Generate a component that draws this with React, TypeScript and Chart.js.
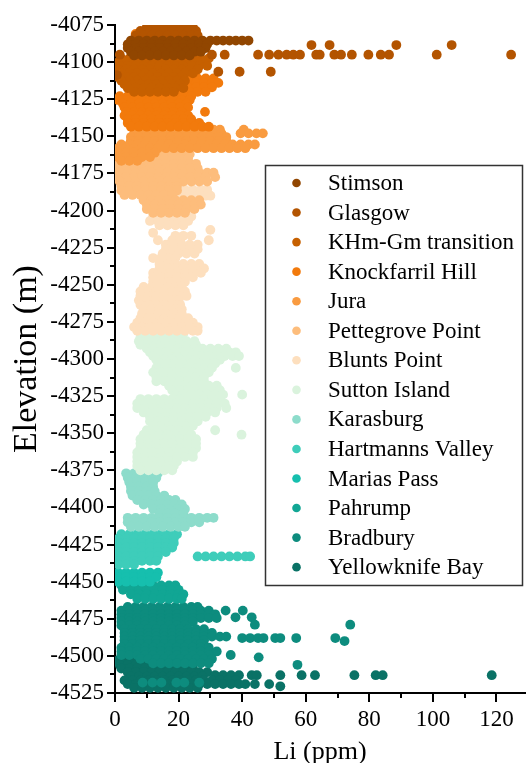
import React, { useEffect, useRef } from 'react';
import { Chart, registerables } from 'chart.js';

Chart.register(...registerables);

type Row = [number, number[]];

const unitNames = [
  'Stimson', 'Glasgow', 'KHm-Gm transition', 'Knockfarril Hill', 'Jura',
  'Pettegrove Point', 'Blunts Point', 'Sutton Island', 'Karasburg',
  'Hartmanns Valley', 'Marias Pass', 'Pahrump', 'Bradbury', 'Yellowknife Bay',
];

const unitColors = [
  '#914600', '#B35400', '#C66000', '#F27A0C', '#F99B40', '#FDBD7C', '#FDDFBE',
  '#DAF3DD', '#8DDCCB', '#3ECDBA', '#16BFAE', '#11A694', '#0D8C7E', '#0A7266',
];

// rows: [elevation (m), Li values (ppm)]
const stimsonRows: Row[] = [
  [-4085.5, [5, 7.5, 10, 12.5, 15, 17.5, 20, 22.5, 25, 27.5, 30, 32, 34, 36, 38, 40, 42]],
  [-4088, [4, 6.5, 9, 11.5, 14, 16.5, 19, 21.5, 24, 26.5, 29]],
  [-4090.5, [4, 6.5, 9, 11.5, 14, 16.5, 19, 21.5, 24, 26.5, 28.5]],
  [-4093, [5, 7.5, 10, 12.5, 15, 17.5, 20, 22.5, 25, 27]],
  [-4095.5, [6, 8.5, 11, 13.5, 16, 18.5, 21, 23.5]],
];

const glasgowRows: Row[] = [
  [-4076.5, [10, 12.5, 15, 17.5, 20, 22.5, 24.5]],
  [-4079, [8, 10.5, 13, 15.5, 18, 20.5, 23, 25.5]],
  [-4082, [6.5, 9, 11.5, 14, 16.5, 19, 21.5, 24, 26]],
  [-4088.5, [61.8, 67.5, 88.5, 105.9]],
  [-4095, [1.5, 30.5, 34.5, 45, 48.5, 51.4, 54, 56.1, 58.2, 63.3, 64.4, 69, 71.1, 74.5, 79.7, 83.6, 86.2, 101.2, 124.6]],
  [-4106.5, [32.5, 39.2, 49]],
  [-4108.7, [0.6]],
];

const khmRows: Row[] = [
  [-4097.5, [2, 4.5, 7, 9.5, 12, 14.5, 17, 19.5, 22, 24.5, 27, 29.5]],
  [-4100, [1, 3.5, 6, 8.5, 11, 13.5, 16, 18.5, 21, 23.5, 26, 28.5]],
  [-4102.5, [1.5, 4, 6.5, 9, 11.5, 14, 16.5, 19, 21.5, 24, 26.5, 29]],
  [-4105, [1, 3.5, 6, 8.5, 11, 13.5, 16, 18.5, 21, 23.5, 26]],
  [-4107.5, [2, 4.5, 7, 9.5, 12, 14.5, 17, 19.5, 22, 24.5]],
  [-4110, [1, 3.5, 6, 8.5, 11, 13.5, 16, 18.5, 21]],
  [-4112.5, [2, 4.5, 7, 9.5, 12, 14.5, 17, 19.5, 22]],
  [-4115, [3, 5.5, 8, 10.5, 13, 15.5, 18, 20.5]],
  [-4117.5, [4, 6.5, 9, 11.5, 14, 16.5, 19, 21.5]],
  [-4120, [6, 8.5, 11, 13.5, 16, 18.5]],
];

const knockfarrilRows: Row[] = [
  [-4081, [6.5]],
  [-4111, [23.5, 26, 28.5, 31]],
  [-4114, [23, 25.5, 28, 30.5, 32.5]],
  [-4117, [23, 25.5, 28, 30.5]],
  [-4120, [21, 23.5, 26, 28.5]],
  [-4123, [1.5, 4, 6.5, 9, 11.5, 14, 16.5, 19, 21.5, 24]],
  [-4125.5, [1, 3.5, 6, 8.5, 11, 13.5, 16, 18.5, 21, 23.5]],
  [-4128, [2.5, 5, 7.5, 10, 12.5, 15, 17.5, 20, 22.5]],
  [-4130.5, [3, 5.5, 8, 10.5, 13, 15.5, 18, 20.5, 23]],
  [-4133.5, [3.5, 6, 8.5, 11, 13.5, 16, 18.5, 21, 28.3]],
  [-4136, [3, 5.5, 8, 10.5, 13, 15.5, 18, 20.5, 23]],
  [-4138.5, [4, 6.5, 9, 11.5, 14, 16.5, 19, 21.5, 24]],
  [-4141, [4, 6.5, 9, 11.5, 14, 16.5, 19, 21.5, 24, 26.5]],
  [-4143.5, [5, 7.5, 10, 12.5, 15, 17.5, 20, 22.5, 25, 27.5, 29.5]],
];

const juraRows: Row[] = [
  [-4145.5, [26, 28.5, 31, 33, 40.5]],
  [-4148, [6, 8.5, 11, 13.5, 16, 18.5, 21, 23.5, 26, 28.5, 31, 33.5, 39.5, 42, 44.5, 46.5]],
  [-4150.5, [5, 7.5, 10, 12.5, 15, 17.5, 20, 22.5, 25, 27.5, 30, 32.5, 35]],
  [-4153, [5, 7.5, 10, 12.5, 15, 17.5, 20, 22.5, 25, 27.5, 30, 32.5, 35]],
  [-4155.5, [2, 4.5, 7, 9.5, 12, 14.5, 17, 19.5, 22, 24.5, 27, 29.5, 32, 34.5, 37, 39.5, 42, 44]],
  [-4158, [1, 3.5, 6, 8.5, 11, 13.5, 16, 18.5, 21, 23.5, 26, 28.5, 31, 33.5, 36, 38.5, 41]],
  [-4161, [1, 3.5, 6, 8.5, 11, 12.5]],
  [-4164, [1, 3.5, 6, 8.5, 11]],
  [-4166.5, [2, 4.5, 7]],
];

const pettegroveRows: Row[] = [
  [-4162, [11, 13.5, 16, 18.5, 21, 23.5]],
  [-4165, [13, 15.5, 18, 20.5, 23]],
  [-4168.5, [1, 3.5, 6, 8.5, 11, 13.5, 16, 18.5, 21, 23.5, 25.5]],
  [-4171.5, [1, 3.5, 6, 8.5, 11, 13.5, 16, 18.5, 21, 23.5, 26]],
  [-4174.5, [1.5, 4, 6.5, 9, 11.5, 14, 16.5, 19, 21.5, 24, 26.5, 29, 31]],
  [-4177.5, [1, 3.5, 6, 8.5, 11, 13.5, 16, 18.5, 21, 23.5, 26, 28.5, 31.5]],
  [-4180.5, [1.5, 4, 6.5, 9, 11.5, 14, 16.5, 19, 21.5, 24, 26.5, 29]],
  [-4183.5, [2, 4.5, 7, 9.5, 12, 14.5, 17, 19.5]],
  [-4186.5, [2, 4.5, 7, 9.5, 12, 14.5, 17, 19.5]],
  [-4189.5, [3, 5.5, 8, 10.5, 13, 15.5, 18]],
  [-4193, [9, 11.5, 14, 16.5, 19, 21.5, 24, 26.5]],
  [-4196, [10, 12.5, 15, 17.5, 20, 22.5, 25, 27]],
  [-4199, [10, 12.5, 15, 17.5, 20, 22.5, 25]],
  [-4201.5, [12, 14.5, 17, 19.5, 22]],
];

const bluntsRows: Row[] = [
  [-4186, [22, 24.5, 27, 29]],
  [-4190, [21, 23.5, 26, 28.5, 30]],
  [-4204, [12, 14.5, 17, 19.5, 22, 24]],
  [-4207, [11, 13.5, 16, 18.5, 21, 23]],
  [-4210, [14, 16.5, 19, 21.5]],
  [-4213, [30]],
  [-4215, [12]],
  [-4217, [19, 21.5, 24]],
  [-4220, [13.5, 18, 20.5, 29.5]],
  [-4223, [16, 18.5, 21, 23.5, 26]],
  [-4226, [16, 18.5, 21, 23.5, 26]],
  [-4229, [15, 17.5, 20, 22.5, 25]],
  [-4232, [12, 14.5, 17, 19]],
  [-4236, [14, 16.5, 19, 21.5, 24, 26.5]],
  [-4239, [14, 16.5, 19, 21.5, 24, 26.5, 28]],
  [-4242, [12, 14.5, 17, 19.5, 22, 24.5, 27]],
  [-4245, [12, 14.5, 17, 19.5, 22, 24.5]],
  [-4248, [12, 14.5, 17, 19.5, 22]],
  [-4251.5, [9, 11.5, 14, 16.5, 19, 21]],
  [-4254.5, [8, 10.5, 13, 15.5, 18, 20.5, 22]],
  [-4257.5, [8, 10.5, 13, 15.5, 18, 20.5, 22.5]],
  [-4260.5, [7.5, 10, 12.5, 15, 17.5, 20]],
  [-4263.5, [8, 10.5, 13, 15.5, 18, 20.5]],
  [-4266.5, [9, 11.5, 14, 16.5, 19, 21]],
  [-4269.5, [8.5, 11, 13.5, 16, 18.5, 21]],
  [-4272.5, [8, 10.5, 13, 15.5, 18, 20.5, 23]],
  [-4275.5, [7, 9.5, 12, 14.5, 17, 19.5, 22, 24.5]],
  [-4278.5, [6, 8.5, 11, 13.5, 16, 18.5, 21, 23.5, 26]],
  [-4281, [7, 9.5, 12, 14.5, 17, 19.5, 22, 24.5, 26]],
];

const suttonRows: Row[] = [
  [-4283, [9, 11.5, 14, 16.5, 19, 21.5]],
  [-4285.5, [8, 10.5, 13, 15.5, 18, 20.5]],
  [-4288, [7.5, 10, 12.5, 15, 17.5, 20, 22.5, 25]],
  [-4290.5, [8, 10.5, 13, 15.5, 18, 20.5, 23, 25.5]],
  [-4293, [10, 12.5, 15, 17.5, 20, 22.5, 25, 27.5, 30, 32.5, 35]],
  [-4295.5, [11, 13.5, 16, 18.5, 21, 23.5, 26, 28.5, 31, 33.5, 36, 38]],
  [-4298, [12, 14.5, 17, 19.5, 22, 24.5, 27, 29.5, 32, 34.5, 37, 39]],
  [-4300.5, [13, 15.5, 18, 20.5, 23, 25.5, 28, 30.5, 33]],
  [-4303, [14, 16.5, 19, 21.5, 24, 26.5, 29, 31.5]],
  [-4306, [13, 15.5, 18, 20.5, 23, 25.5, 28, 30.5, 38]],
  [-4309, [12, 14.5, 17, 19.5, 22, 24.5, 27, 29.5]],
  [-4312, [13, 15.5, 18, 20.5, 23, 25.5, 28]],
  [-4315, [13, 15.5, 18, 20.5, 23, 25.5, 28]],
  [-4318, [17, 19.5, 22, 24.5, 27, 29.5, 32]],
  [-4321, [18, 20.5, 23, 25.5, 28, 30.5, 33]],
  [-4324, [19, 21.5, 24, 26.5, 29, 31.5, 34, 40]],
  [-4327, [8, 10.5, 13, 15.5, 18, 20.5, 23, 25.5, 28, 30.5, 33]],
  [-4330, [7, 9.5, 12, 14.5, 17, 19.5, 22, 24.5, 27, 29.5, 32, 34.5]],
  [-4333, [7, 9.5, 12, 14.5, 17, 19.5, 22, 24.5, 27, 29.5, 32, 35]],
  [-4336, [9, 11.5, 14, 16.5, 19, 21.5, 24, 26.5, 29, 31.5]],
  [-4339, [11, 13.5, 16, 18.5, 21, 23.5, 26, 28.5]],
  [-4342, [11, 13.5, 16, 18.5, 21, 23.5, 26]],
  [-4345, [12, 14.5, 17, 19.5, 22, 24.5]],
  [-4348, [10, 12.5, 15, 17.5, 20, 22.5, 31.5]],
  [-4351, [9, 11.5, 14, 16.5, 19, 21.5, 24, 39.8]],
  [-4354, [8, 10.5, 13, 15.5, 18, 20.5, 23, 25.5]],
  [-4357, [8, 10.5, 13, 15.5, 18, 20.5, 23, 25.5]],
  [-4360, [8, 10.5, 13, 15.5, 18, 20.5, 23, 25.5]],
  [-4363, [7, 9.5, 12, 14.5, 17, 19.5, 22, 24.5]],
  [-4366, [7, 9.5, 12, 14.5, 17, 19.5, 22, 24.5]],
  [-4369, [7, 9.5, 12, 14.5, 17, 19.5]],
  [-4372, [7, 9.5, 12, 14.5, 17, 18.5]],
  [-4375, [8, 10.5, 13, 15.5, 18]],
];

const karasburgRows: Row[] = [
  [-4377, [3.5, 6, 8.5, 11, 13.5]],
  [-4380, [4, 6.5, 9, 11.5, 13]],
  [-4383, [4.5, 7, 9.5, 12]],
  [-4386, [5, 7.5, 10, 12]],
  [-4389, [5, 7.5, 10, 12.5]],
  [-4392, [5.5, 8, 10.5, 13, 15.5]],
  [-4395, [7, 9.5, 12, 14.5, 17, 19]],
  [-4398, [9, 11.5, 14, 16.5, 19, 21]],
  [-4401, [12, 14.5, 17, 19.5, 22]],
  [-4404, [14, 16.5, 19, 21.5]],
  [-4407, [4, 6.5, 9, 11.5, 14, 16.5, 19, 21.5, 24, 26.5, 29, 31]],
  [-4410, [4, 6.5, 9, 11.5, 14, 16.5, 19, 21.5, 24, 26.5]],
  [-4413, [5, 7.5, 10, 12.5, 15, 17.5, 20, 22]],
];

const hartmannsRows: Row[] = [
  [-4418, [2, 4.5, 7, 9.5, 12, 14.5, 17, 19.5]],
  [-4421, [1, 3.5, 6, 8.5, 11, 13.5, 16, 18.5]],
  [-4424, [1, 3.5, 6, 8.5, 11, 13.5, 16, 18.5]],
  [-4427, [1, 3.5, 6, 8.5, 11, 13.5, 16, 18]],
  [-4430, [1, 3.5, 6, 8.5, 11, 13.5, 16]],
  [-4433, [1, 3.5, 6, 8.5, 11, 13.5, 26, 28.5, 31, 33.5, 36, 38.5, 41, 42.5]],
  [-4436, [1, 3.5, 6, 8.5, 11, 13]],
  [-4438.5, [1, 3.5, 6]],
];

const mariasRows: Row[] = [
  [-4444, [1, 3.5, 6, 8.5, 11, 13.5]],
  [-4447, [1, 3.5, 6, 8.5, 11, 13]],
  [-4450, [1, 3.5, 6, 8.5, 11]],
];

const pahrumpRows: Row[] = [
  [-4452.5, [2, 4.5, 7, 9.5, 12, 14.5, 17, 19]],
  [-4455.5, [2.5, 5, 7.5, 10, 12.5, 15, 17.5, 20]],
  [-4458.5, [5, 7.5, 10, 12.5, 15, 17.5, 20, 21.5]],
  [-4461.5, [7, 9.5, 12, 14.5, 17, 19.5, 21]],
];

const bradburyRows: Row[] = [
  [-4467, [4, 6.5, 9, 11.5, 14, 16.5, 19, 21.5, 24, 26]],
  [-4469.5, [2, 4.5, 7, 9.5, 12, 14.5, 17, 19.5, 22, 24.5, 27, 29.5, 34.8, 40.2]],
  [-4472, [2, 4.5, 7, 9.5, 12, 14.5, 17, 19.5, 22, 24.5, 27, 29.5, 31.5]],
  [-4474, [37.9, 43]],
  [-4474.5, [2, 4.5, 7, 9.5, 12, 14.5, 17, 19.5, 22, 24.5, 27, 29.5, 32]],
  [-4477, [2, 4.5, 7, 9.5, 12, 14.5, 17, 19.5, 22, 24.5]],
  [-4479, [44, 74]],
  [-4479.5, [2, 4.5, 7, 9.5, 12, 14.5, 17, 19.5, 22]],
  [-4482, [3, 5.5, 8, 10.5, 13, 15.5, 18, 20.5, 23, 25.5, 28]],
  [-4484.5, [3, 5.5, 8, 10.5, 13, 15.5, 18, 20.5, 23, 25.5, 28, 30.5]],
  [-4487, [3, 5.5, 8, 10.5, 13, 15.5, 18, 20.5, 23, 25.5, 28, 30.5, 33, 35]],
  [-4488, [40, 42.5, 45, 46.7, 50.4, 52, 57, 69.3]],
  [-4489.5, [3, 5.5, 8, 10.5, 13, 15.5, 18, 20.5, 23, 25.5, 28]],
  [-4490, [72.2]],
  [-4492, [3, 5.5, 8, 10.5, 13, 15.5, 18, 20.5, 23, 25.5, 27]],
  [-4494.5, [2, 4.5, 7, 9.5, 12, 14.5, 17, 19.5, 22, 24.5, 27, 29.5]],
  [-4497, [2, 4.5, 7, 9.5, 12, 14.5, 17, 19.5, 22, 24.5, 27, 29.5, 32]],
  [-4499.4, [36.4]],
  [-4499.5, [2, 4.5, 7, 9.5, 12, 14.5, 17, 19.5, 22, 24.5, 27, 29.5]],
  [-4501, [45.2]],
  [-4502, [8, 10.5, 13, 15.5, 18, 20.5, 23, 25.5, 28, 30.5]],
  [-4505, [12, 14.5, 17, 19.5, 22, 24.5, 27, 29.5]],
  [-4506, [57.4]],
  [-4518, [8.7, 11.8, 14.6, 19.3, 21.8, 26.5]],
];

const yellowknifeRows: Row[] = [
  [-4503, [1, 3.5, 6, 8.5, 10]],
  [-4506, [1.5, 4, 6.5, 9, 11]],
  [-4508.5, [2, 4.5, 7, 9.5, 12, 14.5, 17, 19.5, 22, 24.5]],
  [-4511, [4, 6.5, 9, 11.5, 14, 16.5, 19, 21.5, 24, 26.5, 29]],
  [-4513, [31.5, 34, 36.5, 39, 43, 44.6, 52, 58.7, 62.9, 75.3, 82, 84.2, 118.5]],
  [-4514, [5, 7.5, 10, 12.5, 15, 17.5, 20, 22.5, 25, 27.5]],
  [-4516.5, [3, 5.5, 8, 10.5, 13, 15.5, 18, 20.5, 23, 25.5, 28, 30.5, 33, 35.5, 38]],
  [-4519, [4, 6.5, 9, 11.5, 14, 16.5, 19, 21.5, 24, 26.5, 29, 31.5, 34, 36.5, 39, 41, 44, 48.5]],
  [-4520.5, [52]],
  [-4521.5, [6, 8.5, 11, 13.5, 16, 18.5, 21, 23.5, 26]],
];

const unitRows: Row[][] = [
  stimsonRows, glasgowRows, khmRows, knockfarrilRows, juraRows, pettegroveRows,
  bluntsRows, suttonRows, karasburgRows, hartmannsRows, mariasRows, pahrumpRows,
  bradburyRows, yellowknifeRows,
];

const xTickValues = [0, 20, 40, 60, 80, 100, 120];
const yTickValues = [
  -4525, -4500, -4475, -4450, -4425, -4400, -4375, -4350, -4325, -4300, -4275,
  -4250, -4225, -4200, -4175, -4150, -4125, -4100, -4075,
];

const FONT = '"Liberation Serif", "Times New Roman", serif';

const tickMarksPlugin = {
  id: 'tickMarks',
  afterDraw(chart: any) {
    const { ctx } = chart;
    const xs = chart.scales.x;
    const ys = chart.scales.y;
    ctx.save();
    ctx.strokeStyle = '#000';
    ctx.lineWidth = 2;
    const axisX = ys.right;
    const axisY = xs.top;
    const drawY = (v: number, len: number) => {
      const p = Math.round(ys.getPixelForValue(v));
      ctx.beginPath();
      ctx.moveTo(axisX - len, p);
      ctx.lineTo(axisX, p);
      ctx.stroke();
    };
    const drawX = (v: number, len: number) => {
      const p = Math.round(xs.getPixelForValue(v));
      ctx.beginPath();
      ctx.moveTo(p, axisY);
      ctx.lineTo(p, axisY + len);
      ctx.stroke();
    };
    yTickValues.forEach((v, i) => {
      drawY(v, 8);
      if (i < yTickValues.length - 1) drawY((v + yTickValues[i + 1]) / 2, 5);
    });
    xTickValues.forEach((v, i) => {
      drawX(v, 9);
      if (i < xTickValues.length - 1) drawX((v + xTickValues[i + 1]) / 2, 5);
    });
    ctx.restore();
  },
};

const boxLegendPlugin = {
  id: 'boxLegend',
  afterDraw(chart: any) {
    const { ctx } = chart;
    const left = 265;
    const top = 165;
    const w = 257;
    const h = 420;
    ctx.save();
    ctx.fillStyle = '#fff';
    ctx.fillRect(left, top, w, h);
    ctx.strokeStyle = '#333';
    ctx.lineWidth = 1.5;
    ctx.strokeRect(left + 0.5, top + 0.5, w, h);
    ctx.font = `23px ${FONT}`;
    ctx.textBaseline = 'middle';
    ctx.textAlign = 'left';
    chart.data.datasets.forEach((ds: any, i: number) => {
      const y = top + 18 + i * 29.55;
      ctx.fillStyle = ds.backgroundColor;
      ctx.beginPath();
      ctx.arc(left + 31.5, y, 4.3, 0, Math.PI * 2);
      ctx.fill();
      ctx.fillStyle = '#000';
      ctx.fillText(ds.label, left + 63, y + 1);
    });
    ctx.restore();
  },
};

export default function App() {
  const canvasRef = useRef<HTMLCanvasElement | null>(null);

  useEffect(() => {
    document.body.style.margin = '0';
    document.body.style.overflow = 'hidden';
    const canvas = canvasRef.current;
    if (!canvas) return;

    const datasets = unitRows.map((rows, i) => ({
      label: unitNames[i],
      data: rows.flatMap(([elev, lis]) => lis.map((li) => ({ x: li, y: elev }))),
      backgroundColor: unitColors[i],
      borderWidth: 0,
      pointRadius: 4.9,
      pointHoverRadius: 4.9,
      showLine: false,
    }));

    const chart = new Chart(canvas, {
      type: 'scatter',
      data: { datasets },
      plugins: [tickMarksPlugin, boxLegendPlugin],
      options: {
        responsive: false,
        animation: false,
        events: [],
        layout: { padding: { left: 0, right: 1, top: 25, bottom: 0 } },
        plugins: {
          legend: { display: false },
          tooltip: { enabled: false },
        },
        scales: {
          x: {
            type: 'linear',
            min: 0,
            max: 129,
            afterBuildTicks: (s: any) => {
              s.ticks = xTickValues.map((v) => ({ value: v }));
            },
            afterFit: (s: any) => {
              s.height = 70;
            },
            grid: { display: false, drawTicks: false },
            border: { display: true, color: '#000', width: 2 },
            ticks: {
              color: '#000',
              font: { family: FONT, size: 23 },
              padding: 13,
              maxRotation: 0,
              autoSkip: false,
              callback: (v: any) => String(v),
            },
            title: {
              display: true,
              text: 'Li (ppm)',
              color: '#000',
              font: { family: FONT, size: 26, lineHeight: 0.8 },
              padding: { top: 0, bottom: 0 },
            },
          },
          y: {
            type: 'linear',
            min: -4525,
            max: -4075,
            afterBuildTicks: (s: any) => {
              s.ticks = yTickValues.map((v) => ({ value: v }));
            },
            afterFit: (s: any) => {
              s.width = 115;
            },
            grid: { display: false, drawTicks: false },
            border: { display: true, color: '#000', width: 2 },
            ticks: {
              color: '#000',
              font: { family: FONT, size: 23 },
              padding: 11,
              autoSkip: false,
              callback: (v: any) => String(Math.round(Number(v))),
            },
            title: {
              display: true,
              text: 'Elevation (m)',
              color: '#000',
              font: { family: FONT, size: 34, lineHeight: 0.8 },
              padding: { top: 13, bottom: 0 },
            },
          },
        },
      } as any,
    });

    return () => chart.destroy();
  }, []);

  return (
    <div style={{ width: 530, height: 763, position: 'relative' }}>
      <canvas ref={canvasRef} width={530} height={763} style={{ display: 'block', width: 530, height: 763 }} />
    </div>
  );
}
